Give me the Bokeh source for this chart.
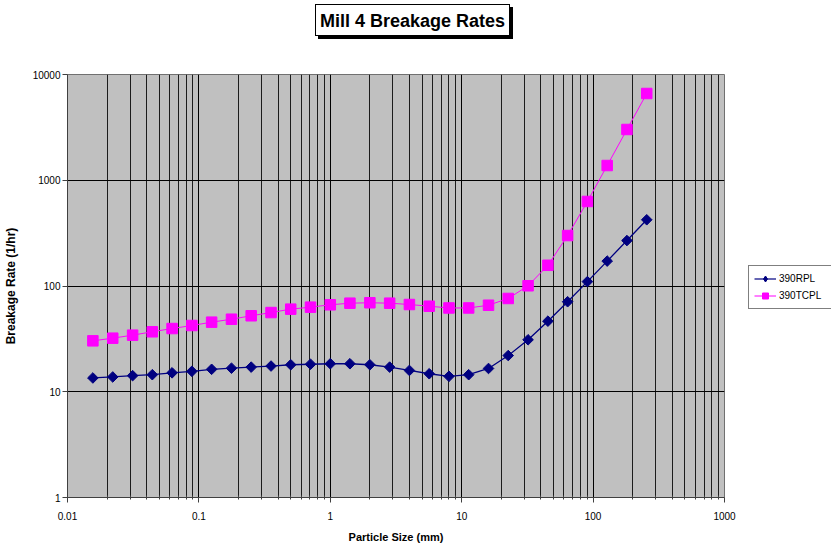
from bokeh.plotting import figure
from bokeh.models import FixedTicker, Legend, LegendItem, Div, Range1d
from bokeh.layouts import column, row
from bokeh.embed import file_html
from bokeh.resources import INLINE

# ---- data ----
sizes = [0.0156, 0.0221, 0.0313, 0.0442, 0.0625, 0.0884, 0.125, 0.177, 0.25, 0.354,
         0.5, 0.707, 1.0, 1.41, 2.0, 2.83, 4.0, 5.66, 8.0, 11.3, 16.0, 22.6, 32.0,
         45.3, 64.0, 90.5, 128.0, 181.0, 256.0]
rpl = [13.5, 13.8, 14.2, 14.5, 15.1, 15.6, 16.3, 16.7, 17.1, 17.5, 18.0, 18.2, 18.4,
       18.4, 18.0, 17.1, 15.9, 14.8, 14.0, 14.5, 16.6, 22.0, 31.0, 46.5, 71, 110, 172,
       269, 423]
tcpl = [30.3, 32.1, 34.3, 36.9, 39.6, 42.3, 45.5, 48.5, 52.3, 56.1, 60.4, 63.1, 66.4,
        68.8, 69.4, 68.8, 66.8, 64.4, 62, 62, 65.8, 76.2, 100.5, 157, 300, 630, 1378,
        3020, 6610]
series_names = ["390RPL", "390TCPL"]
x_ticks = [0.01, 0.1, 1, 10, 100, 1000]
x_tick_labels = ["0.01", "0.1", "1", "10", "100", "1000"]
y_ticks = [1, 10, 100, 1000, 10000]
y_tick_labels = ["1", "10", "100", "1000", "10000"]
title_text = "Mill 4 Breakage Rates"

FONT = "Liberation Sans"
TITLE_H = 44
PLOT_H = 546 - TITLE_H
MAIN_W = 737
LEG_W = 831 - MAIN_W
BLUE = "#000080"
PINK = "#FF00FF"

title_html = (
    '<div style="position:relative;width:831px;height:%dpx;">'
    '<div style="position:absolute;left:315px;top:4px;width:195px;height:32px;'
    'border:1px solid black;background:white;box-shadow:3px 3px 0 black;'
    "font-family:'Liberation Sans',Arial,sans-serif;font-weight:bold;font-size:18px;"
    'line-height:32px;text-align:center;color:black;white-space:nowrap;">%s</div></div>'
    % (TITLE_H, title_text)
)
title_div = Div(text=title_html, width=831, height=TITLE_H, margin=(0, 0, 0, 0))

p = figure(width=MAIN_W, height=PLOT_H, x_axis_type="log", y_axis_type="log",
           x_range=(0.01, 1000), y_range=(1, 10000),
           output_backend="svg", toolbar_location=None,
           min_border_left=62, min_border_right=MAIN_W - 724, min_border_top=74 - TITLE_H,
           min_border_bottom=49, margin=(0, 0, 0, 0))

p.background_fill_color = "#C0C0C0"
p.border_fill_color = "white"
p.outline_line_color = "#707070"
p.outline_line_width = 1

minor = [k * d for d in x_ticks[:-1] for k in range(2, 10)]
p.xaxis.ticker = FixedTicker(ticks=x_ticks, minor_ticks=minor)
p.yaxis.ticker = FixedTicker(ticks=y_ticks, minor_ticks=[])
p.xaxis.major_label_overrides = {t: s for t, s in zip(x_ticks, x_tick_labels)}
p.yaxis.major_label_overrides = {t: s for t, s in zip(y_ticks, y_tick_labels)}

for ax in (p.xaxis[0], p.yaxis[0]):
    ax.major_label_text_font = FONT
    ax.major_label_text_font_size = "10px"
    ax.major_label_text_color = "black"
    ax.axis_label_text_font = FONT
    ax.axis_label_text_font_style = "bold"
    ax.axis_label_text_color = "black"
    ax.axis_line_color = "#404040"
    ax.major_tick_line_color = "#404040"
    ax.minor_tick_line_color = "#404040"
    ax.major_tick_in = 0
    ax.major_tick_out = 5

p.xaxis.axis_label = "Particle Size (mm)"
p.xaxis.axis_label_text_font_size = "11px"
p.xaxis.major_label_standoff = 9
p.xaxis.axis_label_standoff = 8
p.xaxis.minor_tick_in = 2
p.xaxis.minor_tick_out = 2

p.yaxis.axis_label = "Breakage Rate (1/hr)"
p.yaxis.axis_label_text_font_size = "12px"
p.yaxis.major_label_standoff = 2
p.yaxis.axis_label_standoff = 12
p.yaxis.minor_tick_line_color = None

p.xgrid.grid_line_color = "black"
p.xgrid.grid_line_width = 1
p.xgrid.minor_grid_line_color = "#1c1c1c"
p.xgrid.minor_grid_line_width = 1
p.ygrid.grid_line_color = "black"
p.ygrid.grid_line_width = 1
p.ygrid.minor_grid_line_color = None

p.line(sizes, rpl, line_color=BLUE, line_width=1.3)
p.scatter(sizes, rpl, marker="square", angle=0.7853981634, size=7.5,
          fill_color=BLUE, line_color=BLUE)
p.line(sizes, tcpl, line_color=PINK, line_width=1)
p.scatter(sizes, tcpl, marker="square", size=10.5, fill_color=PINK, line_color=PINK)

# ---- legend panel: a small figure whose ranges keep the series out of view ----
lf = figure(width=LEG_W, height=PLOT_H, x_axis_type="log", y_axis_type="log",
            x_range=Range1d(1e6, 1e7), y_range=Range1d(1e6, 1e7),
            output_backend="svg", toolbar_location=None,
            min_border=0, margin=(0, 0, 0, 0))
lf.axis.visible = False
lf.grid.visible = False
lf.outline_line_color = None
lf.background_fill_color = "white"
lf.border_fill_color = "white"

la = lf.line(sizes, rpl, line_color=BLUE, line_width=1.2)
lb = lf.scatter(sizes, rpl, marker="diamond", size=10, fill_color=BLUE, line_color=BLUE)
lc = lf.line(sizes, tcpl, line_color=PINK, line_width=1)
ld = lf.scatter(sizes, tcpl, marker="square", size=7, fill_color=PINK, line_color=PINK)

legend = Legend(items=[LegendItem(label=series_names[0], renderers=[la, lb]),
                       LegendItem(label=series_names[1], renderers=[lc, ld])],
                location=(748 - MAIN_W, 188), orientation="vertical")
legend.label_text_font = FONT
legend.label_text_font_size = "10px"
legend.label_text_color = "black"
legend.border_line_color = "black"
legend.border_line_width = 1
legend.background_fill_color = "white"
legend.background_fill_alpha = 1
legend.glyph_width = 22
legend.glyph_height = 15
legend.label_height = 15
legend.label_width = 47
legend.label_standoff = 3
legend.spacing = 2
legend.padding = 5
legend.margin = 0
lf.add_layout(legend)

layout = column(title_div, row(p, lf, spacing=0, margin=(0, 0, 0, 0)),
                spacing=0, margin=(0, 0, 0, 0))
open("out.html", "w").write(file_html(layout, INLINE))
